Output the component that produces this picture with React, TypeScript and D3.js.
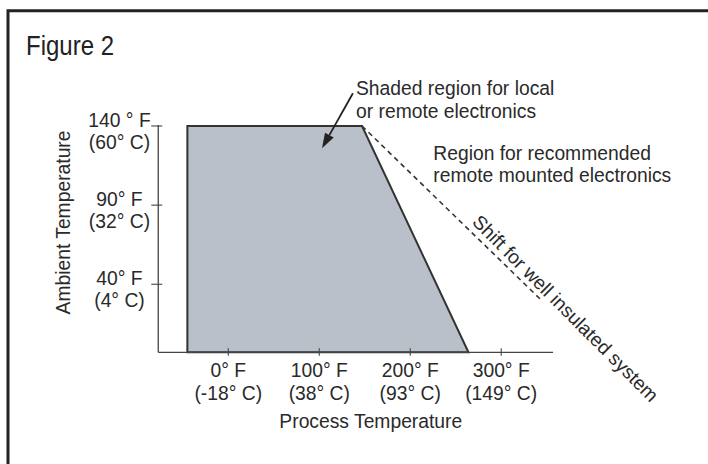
import React from "react";
import * as d3 from "d3";

// ---- data (°F) ----
const xTickValues = [0, 100, 200, 300];
const xTickLabelsF = ["0° F", "100° F", "200° F", "300° F"];
const xTickLabelsC = ["(-18° C)", "(38° C)", "(93° C)", "(149° C)"];

const yTickValues = [140, 90, 40];
const yTickLabelsF = ["140 ° F", "90° F", "40° F"];
const yTickLabelsC = ["(60° C)", "(32° C)", "(4° C)"];

// shaded region (process °F, ambient °F)
const regionProcess = [-45, -45, 147, 264];
const regionAmbient = [-3, 140, 140, -3];

// dashed shift line
const shiftProcess = [147, 344];
const shiftAmbient = [140, 30];

// annotation arrow (start -> tip)
const arrowProcess = [137, 103];
const arrowAmbient = [160.7, 126];

const xDomain = [-77, 357];
const yDomain = [-3, 140];

const FONT = "'Liberation Sans', Arial, Helvetica, sans-serif";
const TEXT = "#2a2a2a";

export default function App() {
  const W = 708;
  const H = 464;
  const x = d3.scaleLinear().domain(xDomain).range([228.3 + 0.9097 * xDomain[0], 228.3 + 0.9097 * xDomain[1]]);
  const y = d3.scaleLinear().domain(yDomain).range([352.3, 126]);

  const regionPts: [number, number][] = regionProcess.map((p, i) => [x(p), y(regionAmbient[i])]);
  const regionPath = d3.line()(regionPts) + "Z";

  const sx0 = x(shiftProcess[0]), sy0 = y(shiftAmbient[0]);
  const sx1 = x(shiftProcess[1]), sy1 = y(shiftAmbient[1]);
  const ang = Math.atan2(sy1 - sy0, sx1 - sx0);
  const dx = Math.cos(ang), dy = Math.sin(ang);
  const along = 146, perp = 6.5;
  const tx = sx0 + dx * along + dy * perp;
  const ty = sy0 + dy * along - dx * perp;

  const ax0 = x(arrowProcess[0]), ay0 = y(arrowAmbient[0]);
  const ax1 = x(arrowProcess[1]), ay1 = y(arrowAmbient[1]);
  const aa = Math.atan2(ay1 - ay0, ax1 - ax0);
  const hl = 15, hw = 5;
  const bx = ax1 - Math.cos(aa) * hl, by = ay1 - Math.sin(aa) * hl;
  const head = `M${ax1},${ay1}L${bx + Math.sin(aa) * hw},${by - Math.cos(aa) * hw}L${bx - Math.sin(aa) * hw},${by + Math.cos(aa) * hw}Z`;

  const axisColor = "#444";

  return (
    <svg width={W} height={H} style={{ position: "absolute", left: 0, top: 0, background: "#fff" }} fontFamily={FONT}>
      <rect x={0} y={0} width={W} height={H} fill="#fff" />
      {/* frame */}
      <path d={`M8,${H} V10.8 H${W}`} fill="none" stroke="#222" strokeWidth={3} />
      <text x={26} y={55} fontSize={28} fill="#222" textLength={88} lengthAdjust="spacingAndGlyphs">
        Figure 2
      </text>

      {/* shaded region */}
      <path d={regionPath} fill="#b9c0ca" stroke="#333" strokeWidth={2} strokeLinejoin="miter" />

      {/* axes */}
      <line x1={x(xDomain[0])} x2={x(xDomain[0])} y1={y(140) - 1} y2={y(yDomain[0])} stroke={axisColor} strokeWidth={1.3} />
      <line x1={x(xDomain[0])} x2={x(xDomain[1])} y1={y(yDomain[0])} y2={y(yDomain[0])} stroke={axisColor} strokeWidth={1.3} />
      {yTickValues.map((v, i) => (
        <g key={"yt" + v}>
          <line x1={x(xDomain[0]) - 7} x2={x(xDomain[0]) + 4} y1={y(v)} y2={y(v)} stroke={axisColor} strokeWidth={1.1} />
          <text x={119.5} y={y(v) + 0.5} textAnchor="middle" fontSize={19.3} fill={TEXT}>{yTickLabelsF[i]}</text>
          <text x={119.5} y={y(v) + 22.5} textAnchor="middle" fontSize={19.3} fill={TEXT}>{yTickLabelsC[i]}</text>
        </g>
      ))}
      {xTickValues.map((v, i) => (
        <g key={"xt" + v}>
          <line x1={x(v)} x2={x(v)} y1={y(yDomain[0]) - 4} y2={y(yDomain[0]) + 3.5} stroke={axisColor} strokeWidth={1.1} />
          <text x={x(v)} y={y(yDomain[0]) + 24.3} textAnchor="middle" fontSize={19.3} fill={TEXT}>{xTickLabelsF[i]}</text>
          <text x={x(v)} y={y(yDomain[0]) + 47.2} textAnchor="middle" fontSize={19.3} fill={TEXT}>{xTickLabelsC[i]}</text>
        </g>
      ))}
      <text x={370.8} y={428.3} textAnchor="middle" fontSize={19.3} fill={TEXT}>Process Temperature</text>
      <text transform="translate(69.5,222.5) rotate(-90)" textAnchor="middle" fontSize={19.3} fill={TEXT}>Ambient Temperature</text>

      {/* dashed shift line */}
      <line x1={sx0} y1={sy0} x2={sx1} y2={sy1} stroke="#333" strokeWidth={1.6} strokeDasharray="5 4" />
      <text transform={`translate(${tx},${ty}) rotate(${(ang * 180) / Math.PI + 1})`} fontSize={19.3} fill={TEXT}>
        Shift for well insulated system
      </text>

      {/* annotation arrow */}
      <line x1={ax0} y1={ay0} x2={bx} y2={by} stroke="#222" strokeWidth={1.8} />
      <path d={head} fill="#222" />
      <text x={356} y={95} fontSize={19.3} fill={TEXT}>Shaded region for local</text>
      <text x={356} y={118.3} fontSize={19.3} fill={TEXT}>or remote electronics</text>
      <text x={433.3} y={160} fontSize={19.3} fill={TEXT}>Region for recommended</text>
      <text x={433.3} y={181.7} fontSize={19.3} fill={TEXT}>remote mounted electronics</text>
    </svg>
  );
}
